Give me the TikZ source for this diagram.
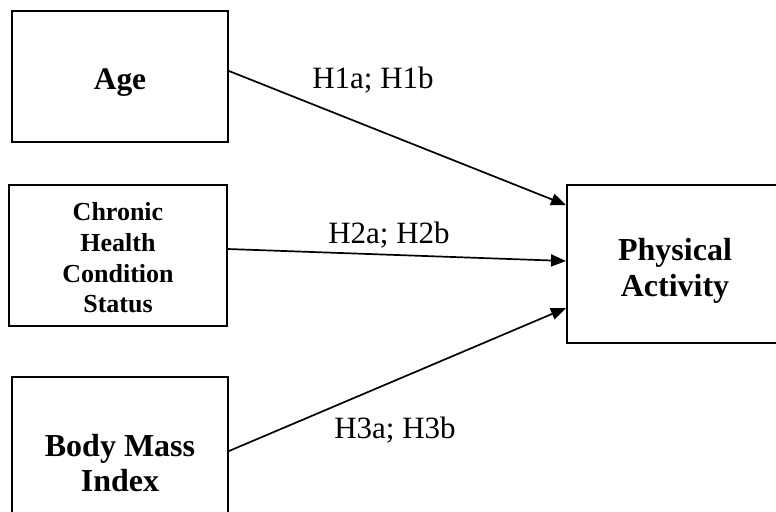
\documentclass[tikz,border=0pt]{standalone}
\usepackage{fontspec}
\setmainfont{Liberation Serif}
\usetikzlibrary{arrows.meta}
\begin{document}
\begin{tikzpicture}[x=0.5pt,y=-0.5pt,
  box/.style={draw=black,line width=1pt,rectangle,inner sep=0pt},
  txt/.style={inner sep=0pt,align=center},
  link/.style={line width=0.85pt,-{Triangle[length=7.5pt,width=6pt]}},
  lab/.style={font=\fontsize{15.5pt}{18pt}\selectfont,inner sep=0pt}]
\clip (0,0) rectangle (776,511);
\fill[white] (0,0) rectangle (776,511);
\node[box,minimum width=108pt,minimum height=65.5pt] (age) at (120,76.5) {};
\node[box,minimum width=109pt,minimum height=70.5pt] (chs) at (118,255.5) {};
\node[box,minimum width=108pt,minimum height=89pt] (bmi) at (120,466) {};
\node[box,minimum width=108pt,minimum height=79pt] (pa) at (675,264) {};
\node[txt,font=\bfseries\fontsize{15.7pt}{18pt}\selectfont] (agetxt) at ([yshift=-3pt]age.center) {Age};
\node[txt,font=\bfseries\fontsize{13pt}{15.35pt}\selectfont] (chstxt) at ([yshift=-1.25pt]chs.center) {Chronic\\Health\\Condition\\Status};
\node[txt,font=\bfseries\fontsize{16pt}{17.5pt}\selectfont] (bmitxt) at ([yshift=1.5pt]bmi.center) {Body Mass\\Index};
\node[txt,font=\bfseries\fontsize{16pt}{18.3pt}\selectfont] (patxt) at ([yshift=-3.5pt]pa.center) {Physical\\Activity};
\draw[link] ([yshift=2.75pt]age.east) -- ([yshift=29.5pt]pa.west);
\draw[link] ([yshift=3.25pt]chs.east) -- ([yshift=1.5pt]pa.west);
\draw[link] ([yshift=7.5pt]bmi.east) -- ([yshift=-22pt]pa.west);
\node[lab] (l1) at (373,80) {H1a; H1b};
\node[lab] (l2) at (389,235) {H2a; H2b};
\node[lab] (l3) at (395,430) {H3a; H3b};
\end{tikzpicture}
\end{document}
